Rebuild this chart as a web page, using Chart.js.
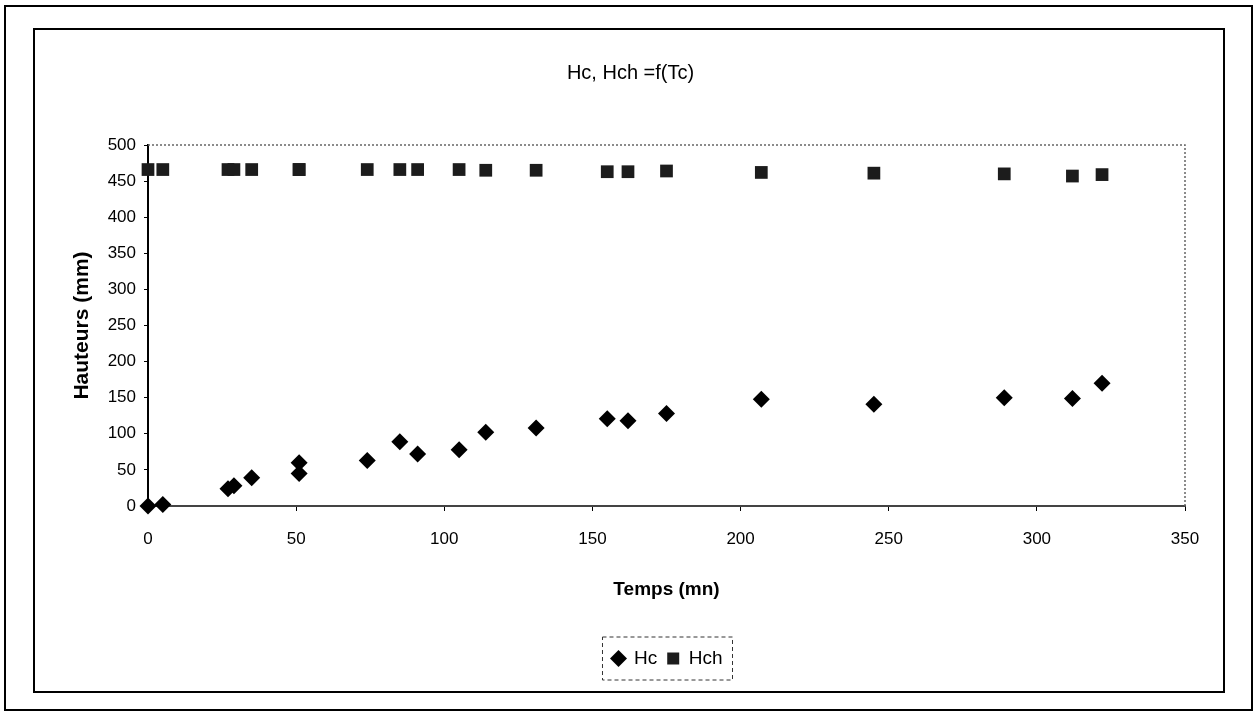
<!DOCTYPE html>
<html>
<head>
<meta charset="utf-8">
<script src="https://cdn.jsdelivr.net/npm/chart.js@4/dist/chart.umd.min.js"></script>
<style>
  html, body { margin: 0; padding: 0; background: #fff; }
  #wrap { width: 1256px; height: 713px; }
</style>
</head>
<body>
<div id="wrap"><canvas id="hauteurs"></canvas></div>
<script>
// temps (mn)
var temps = [0, 5, 27, 29, 35, 51, 51, 74, 85, 91, 105, 114, 131, 155, 162, 175, 207, 245, 289, 312, 322];
// Hc (mm)
var hc = [0, 2, 24, 28, 39, 45, 60, 63, 89, 72, 78, 102, 108, 121, 118, 128, 148, 141, 150, 149, 170];
// Hch (mm)
var hch = [466, 466, 466, 466, 466, 466, 466, 466, 466, 466, 466, 465, 465, 463, 463, 464, 462, 461, 460, 457, 459];

var xTicks = [0, 50, 100, 150, 200, 250, 300, 350];
var yTicks = [0, 50, 100, 150, 200, 250, 300, 350, 400, 450, 500];

var pts = function(ys) {
  return temps.map(function(t, i) { return { x: t, y: ys[i] }; });
};

var FONT = "'Liberation Sans', Arial, sans-serif";

// frames, plot border and legend box
var cadre = {
  id: 'cadre',
  afterLayout: function(chart) {
    // title sits a bit right of the chart centre, legend under the plot centre
    chart.titleBlock.left += 21;
    chart.titleBlock.right += 21;
    chart.legend.left += 58;
    chart.legend.right += 58;
  },
  beforeDraw: function(chart) {
    var ctx = chart.ctx;
    ctx.save();
    ctx.fillStyle = '#fff';
    ctx.fillRect(0, 0, chart.width, chart.height);
    ctx.strokeStyle = '#000';
    ctx.lineWidth = 2;
    ctx.strokeRect(5, 6, 1247, 704);
    ctx.strokeRect(34, 29, 1190, 663);
    ctx.restore();
  },
  beforeDatasetsDraw: function(chart) {
    var a = chart.chartArea, ctx = chart.ctx;
    ctx.save();
    ctx.strokeStyle = '#666';
    ctx.lineWidth = 1.5;
    ctx.setLineDash([2, 2]);
    ctx.beginPath();
    ctx.moveTo(a.left, a.top);
    ctx.lineTo(a.right, a.top);
    ctx.lineTo(a.right, a.bottom);
    ctx.stroke();
    ctx.restore();
  },
  afterDraw: function(chart) {
    var lg = chart.legend, ctx = chart.ctx;
    var pad = lg.options.labels.padding;
    var lw = lg.lineWidths[0];
    var x0 = (lg.left + pad + lg.right - lw) / 2;
    ctx.save();
    ctx.strokeStyle = '#333';
    ctx.lineWidth = 1;
    ctx.setLineDash([4, 3]);
    ctx.strokeRect(x0 - 10, lg.top - 2, lw - pad + 20, lg.height + 4);
    ctx.restore();
  }
};

new Chart(document.getElementById('hauteurs'), {
  type: 'scatter',
  data: {
    datasets: [
      {
        label: 'Hc',
        data: pts(hc),
        clip: false,
        pointStyle: 'rectRot',
        pointRadius: 8.5,
        pointHoverRadius: 8.5,
        backgroundColor: '#000',
        borderColor: '#000',
        borderWidth: 0
      },
      {
        label: 'Hch',
        data: pts(hch),
        clip: false,
        pointStyle: 'rect',
        pointRadius: 9,
        pointHoverRadius: 9,
        backgroundColor: '#1c1c1c',
        borderColor: '#1c1c1c',
        borderWidth: 0
      }
    ]
  },
  plugins: [cadre],
  options: {
    responsive: true,
    maintainAspectRatio: false,
    animation: false,
    layout: { padding: { top: 30, left: 34, right: 71, bottom: 35 } },
    plugins: {
      title: {
        display: true,
        text: 'Hc, Hch =f(Tc)',
        color: '#000',
        font: { family: FONT, size: 20, weight: 'normal' },
        padding: { top: 31, bottom: 60 }
      },
      legend: {
        position: 'bottom',
        labels: {
          usePointStyle: true,
          boxWidth: 12,
          boxHeight: 12,
          padding: 10,
          color: '#000',
          font: { family: FONT, size: 19 }
        }
      },
      tooltip: { enabled: false }
    },
    scales: {
      x: {
        type: 'linear',
        min: 0,
        max: 350,
        afterBuildTicks: function(s) { s.ticks = xTicks.map(function(v) { return { value: v }; }); },
        afterFit: function(s) { s.height = 133; s.paddingLeft = 0; s.paddingRight = 0; },
        grid: { display: true, drawOnChartArea: false, tickLength: 5, color: '#000' },
        border: { display: true, color: '#444', width: 2 },
        ticks: { color: '#000', padding: 18, maxRotation: 0, font: { family: FONT, size: 17 } },
        title: {
          display: true,
          text: 'Temps (mn)',
          color: '#000',
          font: { family: FONT, size: 19, weight: 'bold' },
          padding: { bottom: 38 }
        }
      },
      y: {
        type: 'linear',
        min: 0,
        max: 500,
        afterBuildTicks: function(s) { s.ticks = yTicks.map(function(v) { return { value: v }; }); },
        afterFit: function(s) { s.width = 114; s.paddingTop = 0; s.paddingBottom = 0; },
        grid: { display: true, drawOnChartArea: false, tickLength: 4, color: '#000' },
        border: { display: true, color: '#000', width: 2 },
        ticks: { color: '#000', padding: 8, font: { family: FONT, size: 17 } },
        title: {
          display: true,
          text: 'Hauteurs (mm)',
          color: '#000',
          font: { family: FONT, size: 21, weight: 'bold' },
          padding: { top: 36 }
        }
      }
    }
  }
});
</script>
</body>
</html>
